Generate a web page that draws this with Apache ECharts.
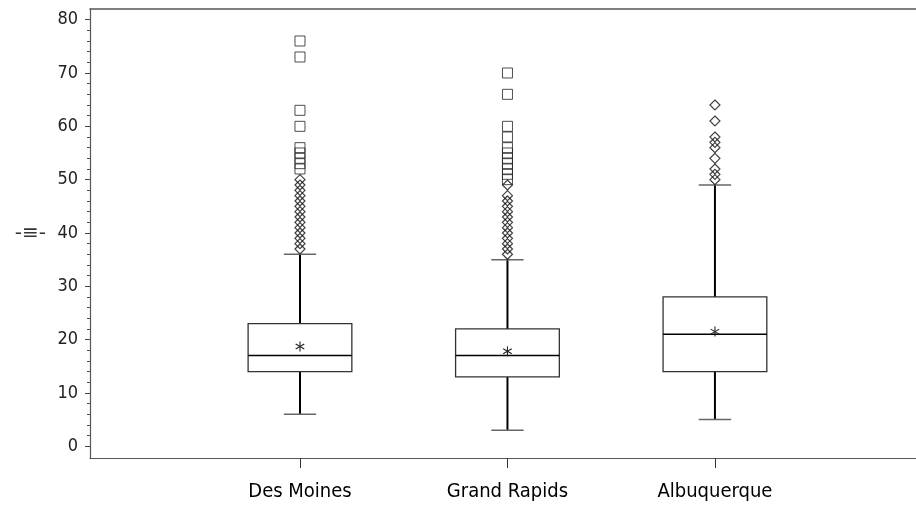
<!DOCTYPE html>
<html>
<head>
<meta charset="utf-8">
<script src="https://cdn.jsdelivr.net/npm/echarts@6/dist/echarts.min.js"></script>
<style>
  html, body { margin: 0; padding: 0; background: #fff; }
  #chart { width: 916px; height: 506px; }
</style>
</head>
<body>
<div id="chart"></div>
<script>
// Box statistics per city
const categories  = ['Des Moines', 'Grand Rapids', 'Albuquerque'];
const lowWhisker  = [6, 3, 5];
const q1          = [14, 13, 14];
const median      = [17, 17, 21];
const q3          = [23, 22, 28];
const highWhisker = [36, 35, 49];
const mean        = [18.7, 17.8, 21.5];

// Outliers beyond 3 IQR (squares) and beyond 1.5 IQR (diamonds)
const farOutliers = [
  [76, 73, 63, 60, 56, 55, 54, 53, 52],
  [70, 66, 60, 58, 56, 55, 54, 53, 52, 51, 50],
  []
];
const nearOutliers = [
  [50, 49, 48, 47, 46, 45, 44, 43, 42, 41, 40, 39, 38, 37],
  [49, 47, 46, 45, 44, 43, 42, 41, 40, 39, 38, 37, 36],
  [64, 61, 58, 57, 56, 54, 52, 51, 50]
];

// Axis ticks
const yTicks      = [0, 10, 20, 30, 40, 50, 60, 70, 80];
const yMinorTicks = [2, 4, 6, 8, 12, 14, 16, 18, 22, 24, 26, 28, 32, 34, 36, 38,
                     42, 44, 46, 48, 52, 54, 56, 58, 62, 64, 66, 68, 72, 74, 76, 78];
const xPositions  = [1, 2, 3];

const NARROW = "'Liberation Sans Narrow', 'DejaVu Sans Condensed', 'Arial Narrow', 'Liberation Sans', sans-serif";

const boxData = categories.map((c, i) =>
  [xPositions[i], lowWhisker[i], q1[i], median[i], q3[i], highWhisker[i], mean[i]]);

function pointsFor(lists) {
  const out = [];
  lists.forEach((vals, i) => vals.forEach(v => out.push([xPositions[i], v])));
  return out;
}

const BOX_HALF = 0.25;
const CAP_HALF = 0.078;

function renderBox(params, api) {
  const x = api.value(0);
  const lo = api.coord([x, api.value(1)]);
  const b1 = api.coord([x, api.value(2)]);
  const md = api.coord([x, api.value(3)]);
  const b3 = api.coord([x, api.value(4)]);
  const hi = api.coord([x, api.value(5)]);
  const mn = api.coord([x, api.value(6)]);
  const left = api.coord([x - BOX_HALF, api.value(3)])[0];
  const right = api.coord([x + BOX_HALF, api.value(3)])[0];
  const capL = api.coord([x - CAP_HALF, api.value(3)])[0];
  const capR = api.coord([x + CAP_HALF, api.value(3)])[0];
  const whisk = { stroke: '#000', lineWidth: 2 };
  const cap = { stroke: '#666', lineWidth: 1.5 };
  const thin = { stroke: '#222', lineWidth: 1.1 };
  const r = 5, dx = 4.3, dy = 2.5;
  return {
    type: 'group',
    children: [
      { type: 'line', shape: { x1: hi[0], y1: hi[1], x2: b3[0], y2: b3[1] }, style: whisk },
      { type: 'line', shape: { x1: b1[0], y1: b1[1], x2: lo[0], y2: lo[1] }, style: whisk },
      { type: 'line', shape: { x1: capL, y1: hi[1], x2: capR, y2: hi[1] }, style: cap },
      { type: 'line', shape: { x1: capL, y1: lo[1], x2: capR, y2: lo[1] }, style: cap },
      { type: 'rect', shape: { x: left, y: b3[1], width: right - left, height: b1[1] - b3[1] },
        style: { fill: 'none', stroke: '#333', lineWidth: 1.3 } },
      { type: 'line', shape: { x1: left, y1: md[1], x2: right, y2: md[1] },
        style: { stroke: '#000', lineWidth: 1.5 } },
      { type: 'line', shape: { x1: mn[0], y1: mn[1] - r, x2: mn[0], y2: mn[1] + r }, style: thin },
      { type: 'line', shape: { x1: mn[0] - dx, y1: mn[1] - dy, x2: mn[0] + dx, y2: mn[1] + dy }, style: thin },
      { type: 'line', shape: { x1: mn[0] - dx, y1: mn[1] + dy, x2: mn[0] + dx, y2: mn[1] - dy }, style: thin }
    ]
  };
}

const chart = echarts.init(document.getElementById('chart'), null, { renderer: 'canvas' });

const axisGray = '#555';

chart.setOption({
  animation: false,
  backgroundColor: '#fff',
  grid: { left: 90, right: 0, top: 9, bottom: 48 },
  xAxis: [
    {
      type: 'value',
      min: -0.012,
      max: 3.969,
      splitLine: { show: false },
      axisLine: { show: true, onZero: false, lineStyle: { color: axisGray, width: 1.2 } },
      axisTick: { show: true, customValues: xPositions, length: 10, lineStyle: { color: '#333', width: 1 } },
      axisLabel: {
        customValues: xPositions,
        formatter: v => categories[Math.round(v) - 1] || '',
        fontFamily: NARROW,
        fontSize: 20,
        color: '#000',
        margin: 24
      }
    },
    {
      type: 'value',
      position: 'top',
      min: -0.012,
      max: 3.969,
      splitLine: { show: false },
      axisLine: { show: true, onZero: false, lineStyle: { color: axisGray, width: 1.5 } },
      axisTick: { show: false },
      axisLabel: { show: false }
    }
  ],
  yAxis: [
    {
      type: 'value',
      min: -2.2,
      max: 82,
      name: '-≡-',
      nameLocation: 'middle',
      nameRotate: 0,
      nameGap: 44,
      nameTextStyle: { fontFamily: 'DejaVu Sans', fontSize: 20, color: '#333' },
      splitLine: { show: false },
      axisLine: { show: true, onZero: false, lineStyle: { color: axisGray, width: 1.2 } },
      axisTick: { show: true, customValues: yTicks, length: 5, lineStyle: { color: '#444' } },
      axisLabel: {
        customValues: yTicks,
        fontFamily: NARROW,
        fontSize: 18,
        color: '#222',
        margin: 12
      }
    },
    {
      type: 'value',
      position: 'left',
      min: -2.2,
      max: 82,
      splitLine: { show: false },
      axisLine: { show: false, onZero: false },
      axisTick: { show: true, customValues: yMinorTicks, length: 3, lineStyle: { color: '#555' } },
      axisLabel: { show: false }
    }
  ],
  series: [
    {
      type: 'custom',
      renderItem: renderBox,
      data: boxData,
      encode: { x: 0, y: [1, 2, 3, 4, 5] },
      silent: true,
      z: 2
    },
    {
      type: 'scatter',
      data: pointsFor(nearOutliers),
      symbol: 'diamond',
      symbolSize: [10, 10],
      itemStyle: { color: 'rgba(0,0,0,0)', borderColor: '#111', borderWidth: 1.2 },
      silent: true,
      z: 3
    },
    {
      type: 'scatter',
      data: pointsFor(farOutliers),
      symbol: 'rect',
      symbolSize: [10, 10],
      itemStyle: { color: 'rgba(0,0,0,0)', borderColor: '#222', borderWidth: 1 },
      silent: true,
      z: 3
    }
  ]
});
</script>
</body>
</html>
